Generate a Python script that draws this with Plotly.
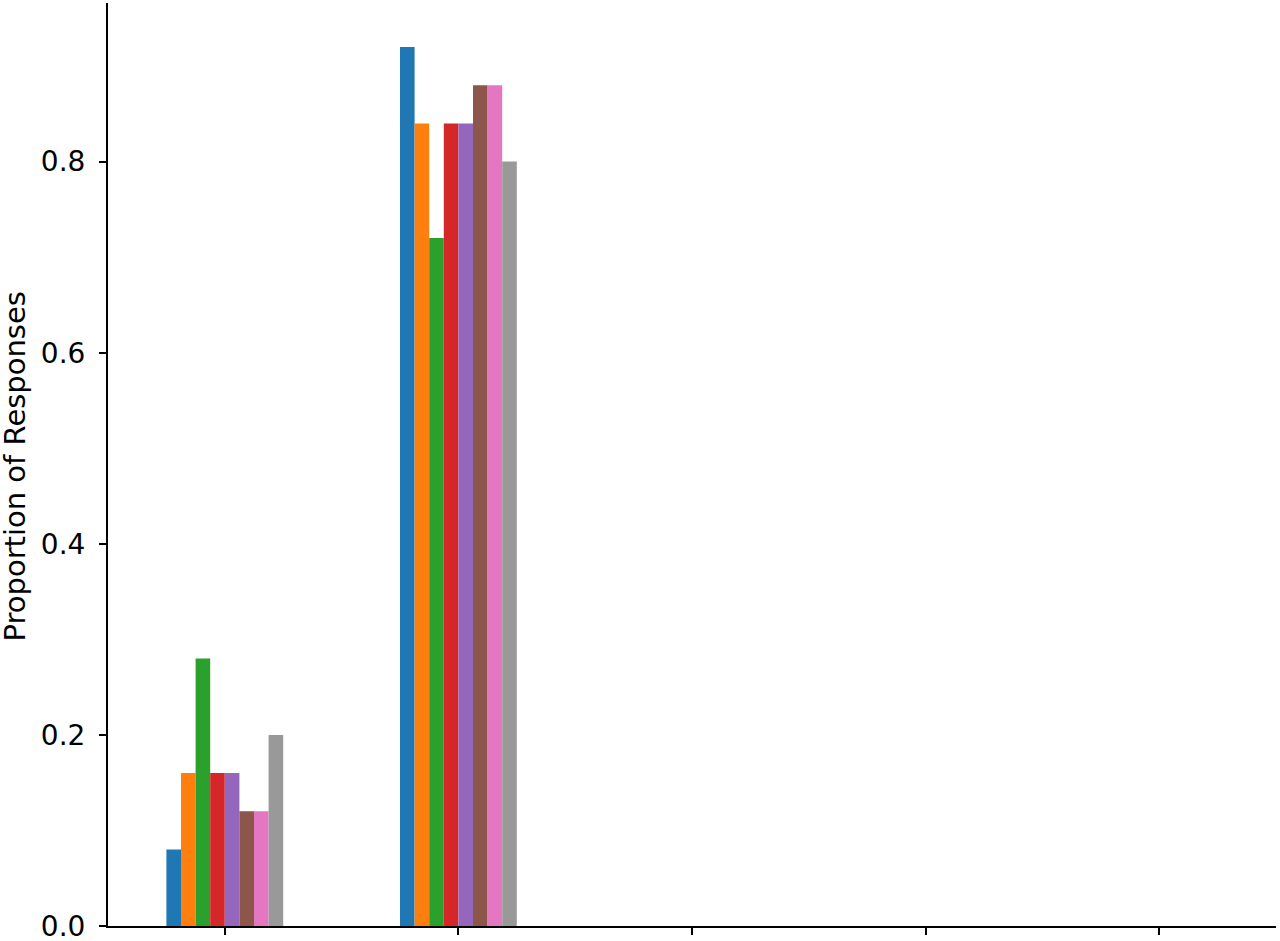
import plotly.graph_objects as go

categories = [0, 1, 2, 3, 4]
tick_labels = ["", "", "", "", ""]
series_names = ["S1", "S2", "S3", "S4", "S5", "S6", "S7", "S8"]
series_values = [
    [0.08, 0.92, 0.0, 0.0, 0.0],
    [0.16, 0.84, 0.0, 0.0, 0.0],
    [0.28, 0.72, 0.0, 0.0, 0.0],
    [0.16, 0.84, 0.0, 0.0, 0.0],
    [0.16, 0.84, 0.0, 0.0, 0.0],
    [0.12, 0.88, 0.0, 0.0, 0.0],
    [0.12, 0.88, 0.0, 0.0, 0.0],
    [0.20, 0.80, 0.0, 0.0, 0.0],
]
colors = ["#1f77b4", "#ff7f0e", "#2ca02c", "#d62728", "#9467bd", "#8c564b", "#e377c2", "#999999"]
y_ticks = [0, 0.2, 0.4, 0.6, 0.8]
y_tick_labels = ["0.0", "0.2", "0.4", "0.6", "0.8"]
y_title = "Proportion of Responses"

fig = go.Figure()
for name, vals, c in zip(series_names, series_values, colors):
    fig.add_trace(go.Bar(x=categories, y=vals, name=name, marker=dict(color=c, line=dict(width=0))))

font = "DejaVu Sans"
fig.update_layout(
    width=1280, height=941,
    barmode="group", bargap=0.5, bargroupgap=0,
    showlegend=False,
    plot_bgcolor="white", paper_bgcolor="white",
    margin=dict(l=108, r=4, t=3, b=15, pad=0, autoexpand=False),
    font=dict(family=font, size=28, color="black"),
    xaxis=dict(
        range=[-0.5, 4.5], tickmode="array", tickvals=categories, ticktext=tick_labels,
        showline=True, linecolor="black", linewidth=2, ticks="outside", ticklen=7, tickwidth=2,
        tickcolor="black", showgrid=False, zeroline=False, automargin=False,
    ),
    yaxis=dict(
        range=[0, 0.966], tickmode="array", tickvals=y_ticks, ticktext=y_tick_labels,
        showline=True, linecolor="black", linewidth=2, ticks="outside", ticklen=7, tickwidth=2,
        tickcolor="black", showgrid=False, zeroline=False, automargin=False,
        ticklabelstandoff=8, ticklabeloverflow="allow",
    ),
    annotations=[dict(
        text=y_title, xref="paper", yref="paper", x=-0.0795, y=0.498,
        xanchor="center", yanchor="middle", textangle=-90, showarrow=False,
        font=dict(size=29, family=font, color="black"),
    )],
)
fig.write_html(
    "out.html",
    config={"displayModeBar": False},
    post_script="document.body.style.margin='0';document.body.style.overflow='hidden';",
)
